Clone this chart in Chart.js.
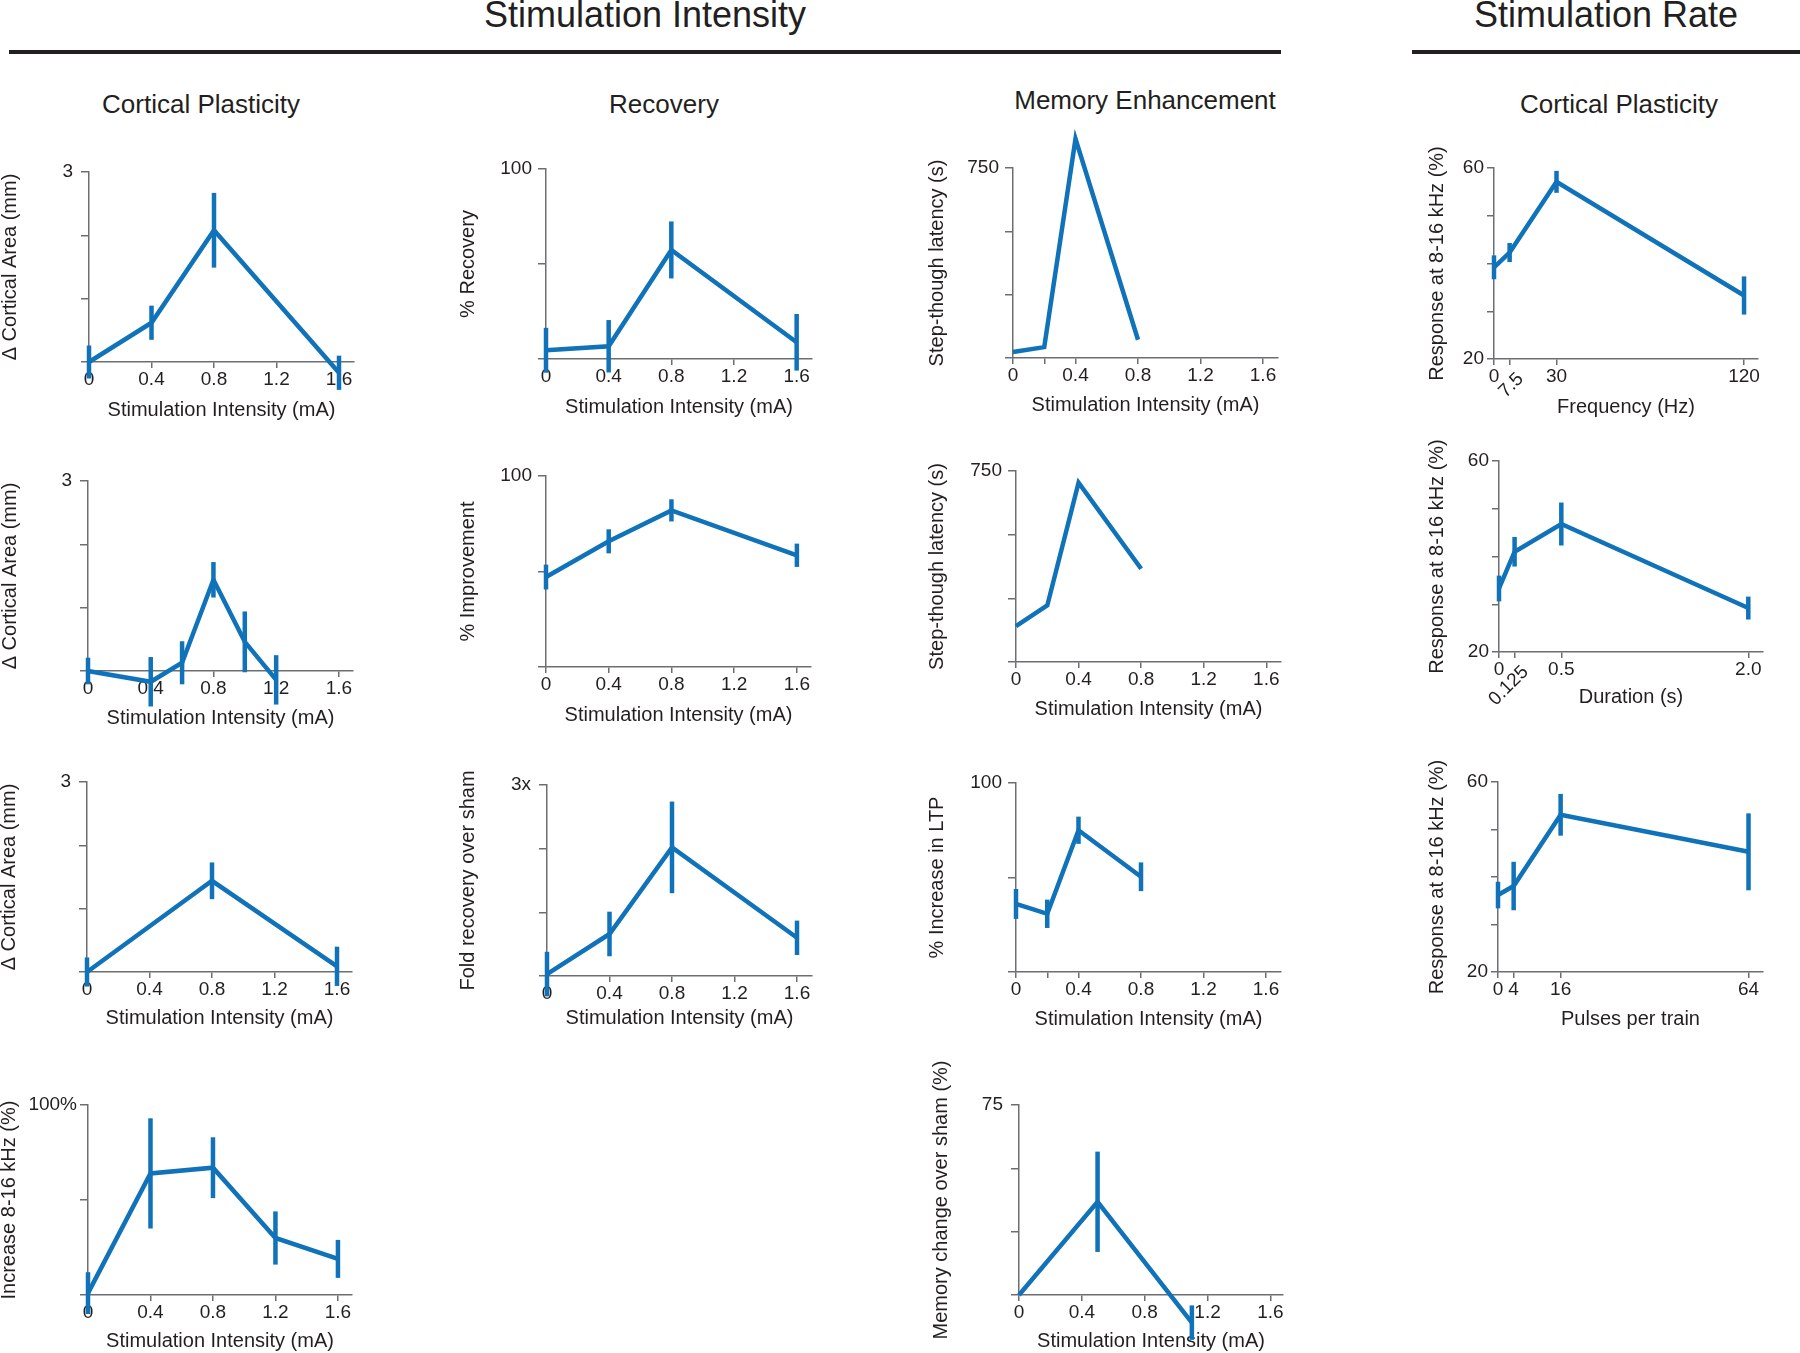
<!DOCTYPE html>
<html>
<head>
<meta charset="utf-8">
<script src="https://cdn.jsdelivr.net/npm/chart.js@4.4.1/dist/chart.umd.min.js"></script>
<style>
  body { margin: 0; background: #fff; width: 1800px; height: 1353px; position: relative; overflow: hidden;
         font-family: 'Liberation Sans', Arial, sans-serif; color: #231f20; }
  canvas { position: absolute; }
  .head { position: absolute; font-size: 36px; line-height: 36px; white-space: nowrap; transform: translateX(-50%); }
  .col { position: absolute; font-size: 26px; line-height: 26px; white-space: nowrap; transform: translateX(-50%); }
  .rule { position: absolute; height: 4px; background: #231f20; }
</style>
</head>
<body>
<div class="head" style="left:645px; top:-3px">Stimulation Intensity</div>
<div class="head" style="left:1606px; top:-3px">Stimulation Rate</div>
<div class="rule" style="left:9px; width:1272px; top:50px"></div>
<div class="rule" style="left:1412px; width:388px; top:50px"></div>
<div class="col" style="left:201px; top:91px">Cortical Plasticity</div>
<div class="col" style="left:664px; top:91px">Recovery</div>
<div class="col" style="left:1145px; top:87px">Memory Enhancement</div>
<div class="col" style="left:1619px; top:91px">Cortical Plasticity</div>

<script>
// tick values and labels
const intensityTicks = [0, 0.4, 0.8, 1.2, 1.6];
const intensityLabels = ['0', '0.4', '0.8', '1.2', '1.6'];
const fineTicks = [0, 0.2, 0.4, 0.8, 1.2, 1.6];
const fineLabels = ['0', '', '0.4', '0.8', '1.2', '1.6'];
const areaTicks = [0, 1, 2, 3];
const areaLabels = ['', '', '', '3'];
const pctTicks = [0, 50, 100];
const pctLabels = ['', '', '100'];
const tuneLabels = ['', '', '100%'];
const foldLabels = ['', '', '', '3x'];
const latencyTicks = [0, 250, 500, 750];
const latencyLabels = ['', '', '', '750'];
const memTicks = [0, 25, 50, 75];
const memLabels = ['', '', '', '75'];
const respTicks = [20, 30, 40, 50, 60];
const respLabels = ['20', '', '', '', '60'];
const freqTicks = [0, 7.5, 30, 120];
const freqLabels = ['0', '', '30', '120'];
const durTicks = [0, 0.125, 0.5, 2.0];
const durLabels = ['0', '', '0.5', '2.0'];
const pulseTicks = [0, 4, 16, 64];
const pulseLabels = ['0', '4', '16', '64'];

// Cortical plasticity vs intensity
const areaAX = [0, 0.4, 0.8, 1.6];
const areaAY = [0, 0.62, 2.08, -0.17];
const areaAErr = [0.26, 0.27, 0.59, 0.27];
const areaBX = [0, 0.4, 0.6, 0.8, 1.0, 1.2];
const areaBY = [0, -0.17, 0.13, 1.44, 0.46, -0.14];
const areaBErr = [0.21, 0.39, 0.34, 0.28, 0.48, 0.39];
const areaCX = [0, 0.8, 1.6];
const areaCY = [0, 1.44, 0.09];
const areaCErr = [0.23, 0.29, 0.31];
const tuneX = [0, 0.4, 0.8, 1.2, 1.6];
const tuneY = [1, 64, 67, 30, 19];
const tuneErr = [11, 29, 16, 14, 10];

// Recovery
const recovX = [0, 0.4, 0.8, 1.6];
const recovAY = [4.6, 6.7, 57.4, 8.8];
const recovAErr = [11.8, 13.8, 15, 14.9];
const recovBY = [47.1, 65.8, 82, 58.5];
const recovBErr = [6.5, 6.3, 5.8, 6.1];
const recovCY = [0.03, 0.66, 2.02, 0.6];
const recovCErr = [0.35, 0.35, 0.72, 0.27];

// Memory enhancement
const memX = [0, 0.2, 0.4, 0.8];
const latencyAY = [24, 43, 865, 72];
const latencyBY = [141, 222, 704, 366];
const ltpY = [36, 30.8, 75, 50.4];
const ltpErr = [7.9, 7.5, 7.2, 7.6];
const memChangeX = [0, 0.5, 1.1];
const memChangeY = [0, 36.8, -10.9];
const memChangeErr = [0, 19.8, 6.8];

// Stimulation rate
const freqX = [0, 7.5, 30, 120];
const freqY = [39.2, 42.3, 57.1, 33.3];
const freqErr = [2.5, 2.0, 2.3, 4.0];
const durX = [0, 0.125, 0.5, 2.0];
const durY = [33.3, 41, 46.8, 29.2];
const durErr = [2.7, 3.1, 4.5, 2.4];
const pulseX = [0, 4, 16, 64];
const pulseY = [36.2, 38.1, 53.1, 45.3];
const pulseErr = [2.8, 5.1, 4.4, 8.1];

const BLUE = '#1072b9';
const INK = '#231f20';
const AXIS = '#6d6e71';
const TICK_SIZE = 19;
const TITLE_SIZE = 20;
Chart.defaults.font.family = "'Liberation Sans', Arial, sans-serif";
Chart.defaults.color = INK;

const SI = 'Stimulation Intensity (mA)';
const AREA = '\u0394 Cortical Area (mm)';
const RESP = 'Response at 8-16 kHz (%)';

const panels = [
  { xs: areaAX, ys: areaAY, err: areaAErr, xt: intensityTicks, xl: intensityLabels, yt: areaTicks, yl: areaLabels,
    ymin: 0, ymax: 3, xmax: 1.696, xTitle: SI, yTitle: AREA, ax: 89, top: 172, zero: 362, right: 354, ytx: 10, xty: 410, ypad: 8 },
  { xs: areaBX, ys: areaBY, err: areaBErr, xt: intensityTicks, xl: intensityLabels, yt: areaTicks, yl: areaLabels,
    ymin: 0, ymax: 3, xmax: 1.69, xTitle: SI, yTitle: AREA, ax: 88, top: 481, zero: 671, right: 353, ytx: 10, xty: 718, ypad: 8 },
  { xs: areaCX, ys: areaCY, err: areaCErr, xt: intensityTicks, xl: intensityLabels, yt: areaTicks, yl: areaLabels,
    ymin: 0, ymax: 3, xmax: 1.696, xTitle: SI, yTitle: AREA, ax: 87, top: 782, zero: 972, right: 352, ytx: 9, xty: 1018, ypad: 8 },
  { xs: tuneX, ys: tuneY, err: tuneErr, xt: intensityTicks, xl: intensityLabels, yt: pctTicks, yl: tuneLabels,
    ymin: 0, ymax: 100, xmax: 1.69, xTitle: SI, yTitle: 'Increase 8-16 kHz (%)', ax: 88, top: 1105, zero: 1295, right: 352, ytx: 9, xty: 1341, ypad: 3 },

  { xs: recovX, ys: recovAY, err: recovAErr, xt: intensityTicks, xl: intensityLabels, yt: pctTicks, yl: pctLabels,
    ymin: 0, ymax: 100, xmax: 1.698, xTitle: SI, yTitle: '% Recovery', ax: 546, top: 169, zero: 359, right: 812, ytx: 468, xty: 407, ypad: 6 },
  { xs: recovX, ys: recovBY, err: recovBErr, xt: intensityTicks, xl: intensityLabels, yt: pctTicks, yl: pctLabels,
    ymin: 0, ymax: 100, xmax: 1.69, xTitle: SI, yTitle: '% Improvement', ax: 546, top: 476, zero: 667, right: 811, ytx: 468, xty: 715, ypad: 6 },
  { xs: recovX, ys: recovCY, err: recovCErr, xt: intensityTicks, xl: intensityLabels, yt: areaTicks, yl: foldLabels,
    ymin: 0, ymax: 3, xmax: 1.696, xTitle: SI, yTitle: 'Fold recovery over sham', ax: 547, top: 785, zero: 976, right: 812, ytx: 468, xty: 1018, ypad: 8 },

  { xs: memX, ys: latencyAY, xt: fineTicks, xl: fineLabels, yt: latencyTicks, yl: latencyLabels,
    ymin: 0, ymax: 750, xmax: 1.696, xTitle: SI, yTitle: 'Step-though latency (s)', ax: 1013, top: 168, zero: 358, right: 1278, ytx: 937, xty: 405, ypad: 6 },
  { xs: memX, ys: latencyBY, xt: intensityTicks, xl: intensityLabels, yt: latencyTicks, yl: latencyLabels,
    ymin: 0, ymax: 750, xmax: 1.694, xTitle: SI, yTitle: 'Step-though latency (s)', ax: 1016, top: 471, zero: 662, right: 1281, ytx: 937, xty: 709, ypad: 6 },
  { xs: memX, ys: ltpY, err: ltpErr, xt: fineTicks, xl: fineLabels, yt: pctTicks, yl: pctLabels,
    ymin: 0, ymax: 100, xmax: 1.696, xTitle: SI, yTitle: '% Increase in LTP', ax: 1016, top: 783, zero: 972, right: 1281, ytx: 937, xty: 1019, ypad: 6 },
  { xs: memChangeX, ys: memChangeY, err: memChangeErr, xt: intensityTicks, xl: intensityLabels, yt: memTicks, yl: memLabels,
    ymin: 0, ymax: 75, xmax: 1.68, xTitle: SI, yTitle: 'Memory change over sham (%)', ax: 1019, top: 1105, zero: 1295, right: 1283, ytx: 941, xty: 1341, ypad: 8 },

  { xs: freqX, ys: freqY, err: freqErr, xt: freqTicks, xl: freqLabels, yt: respTicks, yl: respLabels, slant: { values: [7.5], labels: ['7.5'] },
    ymin: 20, ymax: 60, xmax: 126.7, xTitle: 'Frequency (Hz)', yTitle: RESP, ax: 1494, top: 168, zero: 359, right: 1758, ytx: 1437, xty: 407, ypad: 3, ytl: 7 },
  { xs: durX, ys: durY, err: durErr, xt: durTicks, xl: durLabels, yt: respTicks, yl: respLabels, slant: { values: [0.125], labels: ['0.125'] },
    ymin: 20, ymax: 60, xmax: 2.118, xTitle: 'Duration (s)', yTitle: RESP, ax: 1499, top: 461, zero: 652, right: 1763, ytx: 1437, xty: 697, ypad: 3, ytl: 7 },
  { xs: pulseX, ys: pulseY, err: pulseErr, xt: pulseTicks, xl: pulseLabels, yt: respTicks, yl: respLabels,
    ymin: 20, ymax: 60, xmax: 67.7, xTitle: 'Pulses per train', yTitle: RESP, ax: 1498, top: 782, zero: 972, right: 1763, ytx: 1437, xty: 1019, ypad: 3, ytl: 7 }
];

// vertical error bars drawn through the chart scales
const errorBars = {
  id: 'errorBars',
  afterDatasetsDraw(chart) {
    const { ctx, scales: { x, y } } = chart;
    chart.data.datasets.forEach(ds => {
      if (!ds.err) return;
      ctx.save();
      ctx.strokeStyle = ds.borderColor;
      ctx.lineWidth = 4.5;
      ds.data.forEach((p, i) => {
        if (!ds.err[i]) return;
        const px = x.getPixelForValue(p.x);
        ctx.beginPath();
        ctx.moveTo(px, y.getPixelForValue(p.y - ds.err[i]));
        ctx.lineTo(px, y.getPixelForValue(p.y + ds.err[i]));
        ctx.stroke();
      });
      ctx.restore();
    });
  }
};

// slanted tick labels (7.5 and 0.125)
const slantLabels = {
  id: 'slantLabels',
  afterDraw(chart, args, opts) {
    if (!opts.values) return;
    const { ctx, scales: { x }, chartArea } = chart;
    ctx.save();
    ctx.font = TICK_SIZE + "px 'Liberation Sans', Arial, sans-serif";
    ctx.fillStyle = INK;
    ctx.textAlign = 'right';
    ctx.textBaseline = 'middle';
    opts.values.forEach((v, i) => {
      ctx.save();
      ctx.translate(x.getPixelForValue(v) + 11, chartArea.bottom + 17);
      ctx.rotate(-Math.PI / 4);
      ctx.fillText(opts.labels[i], 0, 0);
      ctx.restore();
    });
    ctx.restore();
  }
};

function makePanel(p) {
  const lh = TITLE_SIZE * 1.2;
  const padTop = 70, padRight = 20;
  const left = Math.round(p.ytx - lh / 2);
  const top = p.top - padTop;
  const yW = p.ax - left;
  const xH = p.xty - p.zero + lh / 2;
  const canvas = document.createElement('canvas');
  canvas.width = p.right - left + padRight;
  canvas.height = Math.round(padTop + (p.zero - p.top) + xH);
  canvas.style.left = left + 'px';
  canvas.style.top = top + 'px';
  document.body.appendChild(canvas);

  new Chart(canvas, {
    type: 'line',
    data: {
      datasets: [{
        data: p.xs.map((x, i) => ({ x: x, y: p.ys[i] })),
        err: p.err,
        borderColor: BLUE,
        borderWidth: 4.5,
        pointRadius: 0,
        tension: 0,
        fill: false,
        clip: false
      }]
    },
    options: {
      responsive: false,
      animation: false,
      devicePixelRatio: 1,
      layout: { padding: { top: padTop, right: padRight, left: 0, bottom: 0 } },
      plugins: {
        legend: { display: false },
        tooltip: { enabled: false },
        slantLabels: p.slant || {}
      },
      scales: {
        x: {
          type: 'linear',
          min: 0,
          max: p.xmax,
          afterBuildTicks: s => { s.ticks = p.xt.map(v => ({ value: v })); },
          afterFit: s => { s.height = xH; },
          grid: { drawOnChartArea: false, drawTicks: true, tickLength: 6, color: AXIS, lineWidth: 1.5 },
          border: { display: true, color: AXIS, width: 1.5 },
          ticks: { autoSkip: false, maxRotation: 0, minRotation: 0, padding: 0, font: { size: TICK_SIZE }, color: INK,
                   callback: (v, i) => p.xl[i] },
          title: { display: true, text: p.xTitle, font: { size: TITLE_SIZE }, color: INK, padding: 0 }
        },
        y: {
          type: 'linear',
          min: p.ymin,
          max: p.ymax,
          afterBuildTicks: s => { s.ticks = p.yt.map(v => ({ value: v })); },
          afterFit: s => { s.width = yW; },
          grid: { drawOnChartArea: false, drawTicks: true, tickLength: p.ytl || 8, color: AXIS, lineWidth: 1.5 },
          border: { display: true, color: AXIS, width: 1.5 },
          ticks: { autoSkip: false, padding: p.ypad, font: { size: TICK_SIZE }, color: INK,
                   callback: (v, i) => p.yl[i] },
          title: { display: true, text: p.yTitle, font: { size: TITLE_SIZE }, color: INK, padding: 0 }
        }
      }
    },
    plugins: [errorBars, slantLabels]
  });
}

panels.forEach(makePanel);
</script>
</body>
</html>
